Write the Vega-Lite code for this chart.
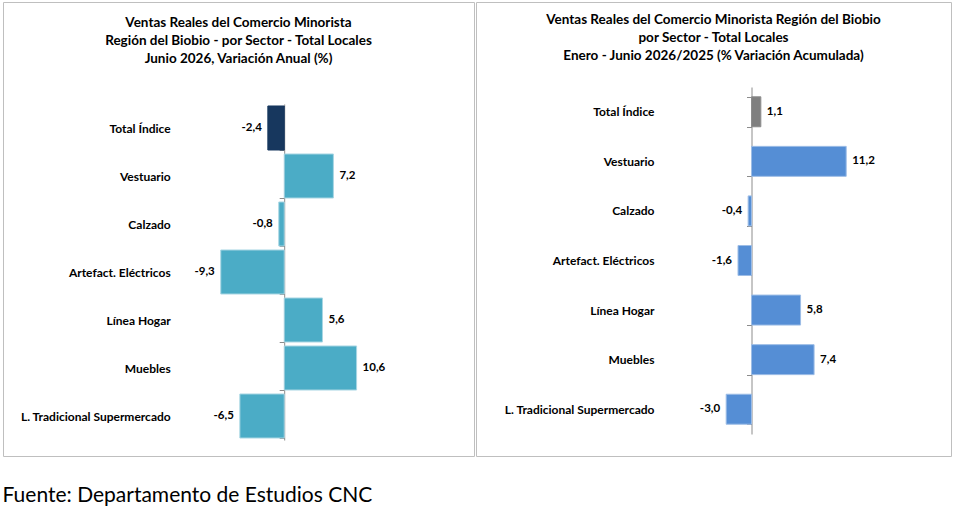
{
  "$schema": "https://vega.github.io/schema/vega-lite/v6.json",
  "background": "white",
  "padding": {"left": 2, "top": -5, "right": 0, "bottom": 0},
  "datasets": {
    "anual": [
      {"sector": "Total Índice", "valor": -2.4},
      {"sector": "Vestuario", "valor": 7.2},
      {"sector": "Calzado", "valor": -0.8},
      {"sector": "Artefact. Eléctricos", "valor": -9.3},
      {"sector": "Línea Hogar", "valor": 5.6},
      {"sector": "Muebles", "valor": 10.6},
      {"sector": "L. Tradicional Supermercado", "valor": -6.5}
    ],
    "acumulada": [
      {"sector": "Total Índice", "valor": 1.1},
      {"sector": "Vestuario", "valor": 11.2},
      {"sector": "Calzado", "valor": -0.4},
      {"sector": "Artefact. Eléctricos", "valor": -1.6},
      {"sector": "Línea Hogar", "valor": 5.8},
      {"sector": "Muebles", "valor": 7.4},
      {"sector": "L. Tradicional Supermercado", "valor": -3.0}
    ]
  },
  "title": {
    "text": "Fuente: Departamento de Estudios CNC",
    "orient": "bottom",
    "anchor": "start",
    "font": "Lato",
    "fontSize": 21,
    "fontWeight": "normal",
    "color": "#000000",
    "offset": 28
  },
  "spacing": 0,
  "hconcat": [
    {
      "width": 471,
      "height": 454,
      "title": {
        "text": ["Ventas Reales del Comercio Minorista", "Región del Biobio - por Sector - Total Locales", "Junio 2026, Variación Anual  (%)"],
        "offset": -69,
        "anchor": "middle",
        "lineHeight": 18
      },
      "data": {"name": "anual"},
      "encoding": {
        "y": {
          "field": "sector",
          "type": "nominal",
          "sort": null,
          "title": null,
          "scale": {"range": [102, 438], "paddingInner": 0.083, "paddingOuter": 0.0415},
          "axis": {"offset": -281.2, "labelPadding": 109}
        },
        "x": {
          "field": "valor",
          "type": "quantitative",
          "axis": null,
          "scale": {"domain": [-41.2, 27.8]}
        }
      },
      "layer": [
        {
          "mark": {"type": "bar", "strokeWidth": 1},
          "encoding": {
            "color": {
              "condition": {"test": "datum.sector === 'Total Índice'", "value": "#17375E"},
              "value": "#4BACC6"
            },
            "stroke": {
              "condition": {"test": "datum.sector === 'Total Índice'", "value": "#17375E"},
              "value": "#a8d6e3"
            }
          }
        },
        {
          "transform": [{"filter": "datum.valor >= 0"}],
          "mark": {"type": "text", "align": "left", "dx": 6, "font": "Lato", "fontWeight": "bold", "fontSize": 11.5, "color": "#000000"},
          "encoding": {"text": {"field": "valor", "type": "quantitative", "format": ".1f"}}
        },
        {
          "transform": [{"filter": "datum.valor < 0"}],
          "mark": {"type": "text", "align": "right", "dx": -6, "font": "Lato", "fontWeight": "bold", "fontSize": 11.5, "color": "#000000"},
          "encoding": {"text": {"field": "valor", "type": "quantitative", "format": ".1f"}}
        }
      ]
    },
    {
      "width": 475,
      "height": 454,
      "title": {
        "text": ["Ventas Reales del Comercio Minorista Región del Biobio", "por Sector - Total Locales", "Enero  - Junio 2026/2025  (% Variación Acumulada)"],
        "offset": -66,
        "anchor": "middle",
        "lineHeight": 18
      },
      "data": {"name": "acumulada"},
      "encoding": {
        "y": {
          "field": "sector",
          "type": "nominal",
          "sort": null,
          "title": null,
          "scale": {"range": [85, 432], "paddingInner": 0.395, "paddingOuter": 0.1975},
          "axis": {"offset": -275.5, "labelPadding": 92.5}
        },
        "x": {
          "field": "valor",
          "type": "quantitative",
          "axis": null,
          "scale": {"domain": [-32.6, 23.6]}
        }
      },
      "layer": [
        {
          "mark": {"type": "bar", "strokeWidth": 1},
          "encoding": {
            "color": {
              "condition": {"test": "datum.sector === 'Total Índice'", "value": "#7F7F7F"},
              "value": "#558ED5"
            },
            "stroke": {
              "condition": {"test": "datum.sector === 'Total Índice'", "value": "#8c8c8c"},
              "value": "#9dbde6"
            }
          }
        },
        {
          "transform": [{"filter": "datum.valor >= 0"}],
          "mark": {"type": "text", "align": "left", "dx": 6, "font": "Lato", "fontWeight": "bold", "fontSize": 11.5, "color": "#000000"},
          "encoding": {"text": {"field": "valor", "type": "quantitative", "format": ".1f"}}
        },
        {
          "transform": [{"filter": "datum.valor < 0"}],
          "mark": {"type": "text", "align": "right", "dx": -6, "font": "Lato", "fontWeight": "bold", "fontSize": 11.5, "color": "#000000"},
          "encoding": {"text": {"field": "valor", "type": "quantitative", "format": ".1f"}}
        }
      ]
    }
  ],
  "config": {
    "locale": {"number": {"decimal": ",", "thousands": ".", "grouping": [3], "currency": ["$", ""], "minus": "-"}},
    "view": {"stroke": "#bfbfbf", "strokeWidth": 1},
    "title": {"font": "Lato", "fontSize": 13.5, "fontWeight": "bold", "color": "#000000"},
    "axisY": {
      "domainColor": "#8c8c8c",
      "tickColor": "#8c8c8c",
      "tickBand": "extent",
      "tickSize": 5,
      "labelFont": "Lato",
      "labelFontWeight": "bold",
      "labelFontSize": 12,
      "labelColor": "#000000",
      "labelLimit": 300
    }
  }
}
